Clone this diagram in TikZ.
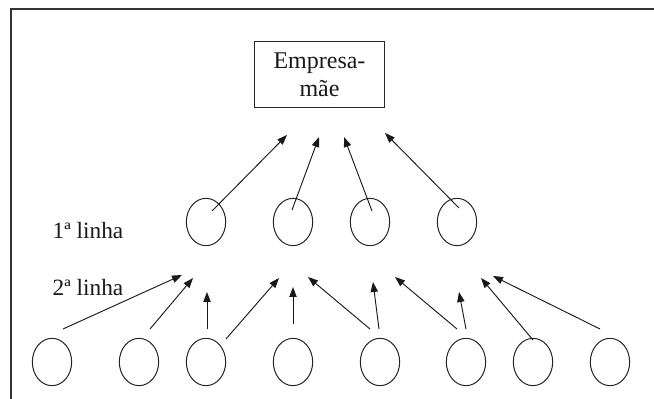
\documentclass[tikz,border=0pt]{standalone}
\usepackage{fontspec}
\setmainfont{Liberation Serif}
\usetikzlibrary{shapes.geometric,arrows.meta,calc}
\begin{document}
\begin{tikzpicture}[x=0.75pt,y=-0.75pt,
  frameline/.style={draw=black!80,line width=1.1pt},
  unit/.style={draw=black!85,ellipse,line width=0.75pt,minimum width=29.5pt,minimum height=35.5pt,inner sep=0pt},
  mother/.style={draw=black!85,line width=0.75pt,minimum width=98pt,minimum height=49.5pt,align=center,font=\fontsize{18}{21}\selectfont,text=black!90},
  lbl/.style={font=\fontsize{17.5}{20}\selectfont,text=black!90,inner sep=0pt},
  arr/.style={draw=black!90,line width=0.7pt,-{Triangle[length=7.5pt,width=5.5pt]}}]
\useasboundingbox (0,0) rectangle (654,399);
% frame (top and left only)
\draw[frameline] (11,399) -- (11,9) -- (654,9);
% parent company
\node[mother] (m) at (319.5,75) {Empresa-\\mãe};
% labels
\node[lbl] (l1) at (88,231) {1ª linha};
\node[lbl] (l2) at (88,288) {2ª linha};
% first line
\node[unit] (t1) at (206,222) {};
\node[unit] (t2) at (293,222) {};
\node[unit] (t3) at (370,222) {};
\node[unit] (t4) at (457,222) {};
% second line
\node[unit] (b1) at (52,362) {};
\node[unit] (b2) at (139,362) {};
\node[unit] (b3) at (206,362) {};
\node[unit] (b4) at (293,362) {};
\node[unit] (b5) at (380,362) {};
\node[unit] (b6) at (466,362) {};
\node[unit] (b7) at (533,362) {};
\node[unit] (b8) at (610,362) {};
% free arrow ends (top level)
\coordinate (ta1) at (287,135);
\coordinate (ta2) at (319,137);
\coordinate (ta3) at (344,137);
\coordinate (ta4) at (385,133);
% free arrow ends (lower level)
\coordinate (ba1) at (182,275);
\coordinate (ba2) at (193,278);
\coordinate (ba3) at (207,292);
\coordinate (ba4) at (279,278);
\coordinate (ba5) at (293,287);
\coordinate (ba6) at (308,277);
\coordinate (ba7) at (373,282);
\coordinate (ba8) at (395,277);
\coordinate (ba9) at (459,292);
\coordinate (ba10) at (481,278);
\coordinate (ba11) at (493,276);
% first line arrows
\draw[arr] ($(t1)+(6,-11)$) -- (ta1);
\draw[arr] ($(t2)+(-1,-12)$) -- (ta2);
\draw[arr] ($(t3)+(2,-11)$) -- (ta3);
\draw[arr] ($(t4)+(2,-14)$) -- (ta4);
% second line arrows
\draw[arr] ($(b1)+(11,-33)$) -- (ba1);
\draw[arr] ($(b2)+(11,-33)$) -- (ba2);
\draw[arr] ($(b3)+(1,-33)$) -- (ba3);
\draw[arr] ($(b3)+(20,-23)$) -- (ba4);
\draw[arr] ($(b4)+(0,-38)$) -- (ba5);
\draw[arr] ($(b5)+(-10,-33)$) -- (ba6);
\draw[arr] ($(b5)+(-1,-33)$) -- (ba7);
\draw[arr] ($(b6)+(-9,-33)$) -- (ba8);
\draw[arr] ($(b6)+(0,-33)$) -- (ba9);
\draw[arr] ($(b7)+(0,-22)$) -- (ba10);
\draw[arr] ($(b8)+(-10,-33)$) -- (ba11);
\end{tikzpicture}
\end{document}
